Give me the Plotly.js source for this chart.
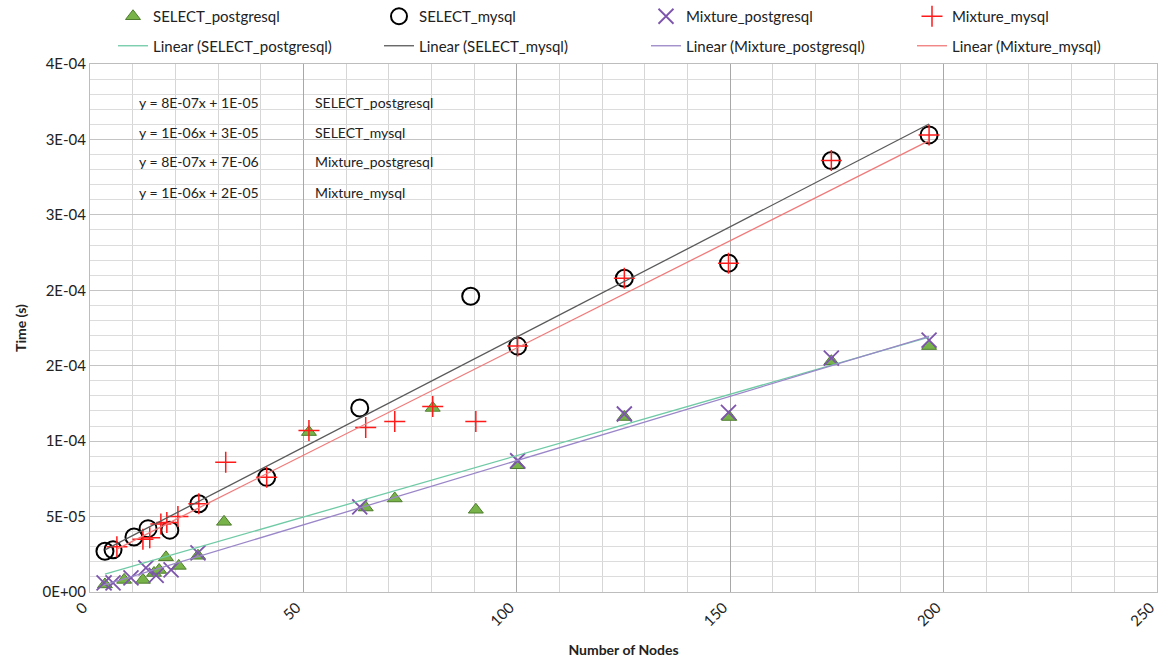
<!DOCTYPE html>
<html>
<head>
<meta charset="utf-8">
<script src="https://cdn.plot.ly/plotly-3.0.1.min.js"></script>
<style>
  html, body { margin: 0; padding: 0; background: #ffffff; }
  #chart { width: 1161px; height: 666px; }
</style>
</head>
<body>
<div id="chart"></div>
<script>
// ---- Data ----
const seriesNames = ["SELECT_postgresql", "SELECT_mysql", "Mixture_postgresql", "Mixture_mysql"];

const xSelectPg = [3.5, 8, 12.4, 15, 16.2, 17.8, 20.8, 25.3, 31.4, 51.3, 64.6, 71.4, 80.3, 90.4, 100.2, 125.2, 149.8, 173.7, 196.6];
const ySelectPg = [5e-6, 8e-6, 8e-6, 1.26e-5, 1.46e-5, 2.3e-5, 1.73e-5, 2.4e-5, 4.65e-5, 1.06e-4, 5.6e-5, 6.2e-5, 1.22e-4, 5.45e-5, 8.4e-5, 1.16e-4, 1.16e-4, 1.53e-4, 1.63e-4];

const xSelectMy = [3.5, 5.4, 10.3, 13.6, 18.7, 25.5, 41.4, 63.2, 89.2, 100.2, 125.2, 149.6, 173.7, 196.6];
const ySelectMy = [2.7e-5, 2.8e-5, 3.65e-5, 4.2e-5, 4.1e-5, 5.85e-5, 7.6e-5, 1.22e-4, 1.96e-4, 1.63e-4, 2.08e-4, 2.18e-4, 2.86e-4, 3.03e-4];

const xMixPg = [3.3, 5.4, 9.6, 13.1, 15.5, 19, 25.3, 63.2, 100.2, 125.2, 149.6, 173.7, 196.6];
const yMixPg = [6e-6, 6e-6, 9.3e-6, 1.6e-5, 1.1e-5, 1.46e-5, 2.6e-5, 5.65e-5, 8.7e-5, 1.18e-4, 1.19e-4, 1.55e-4, 1.67e-4];

const xMixMy = [6.3, 12.4, 14, 16.6, 18, 20.6, 25.5, 31.8, 41.4, 51.3, 64.6, 71.4, 80.3, 90.4, 100.2, 125.2, 149.6, 173.7, 196.6];
const yMixMy = [3e-5, 3.5e-5, 3.6e-5, 4.5e-5, 4.6e-5, 5e-5, 5.85e-5, 8.6e-5, 7.6e-5, 1.07e-4, 1.09e-4, 1.13e-4, 1.23e-4, 1.13e-4, 1.63e-4, 2.08e-4, 2.18e-4, 2.86e-4, 3.03e-4];

const eqTexts = ["y = 8E-07x + 1E-05", "y = 1E-06x + 3E-05", "y = 8E-07x + 7E-06", "y = 1E-06x + 2E-05"];

const xTickVals = [0, 50, 100, 150, 200, 250];
const yTickVals = [0, 5e-5, 1e-4, 1.5e-4, 2e-4, 2.5e-4, 3e-4, 3.5e-4];
const yTickText = ["0E+00", "5E-05", "1E-04", "2E-04", "2E-04", "3E-04", "3E-04", "4E-04"];

// ---- Linear least-squares trendline over each series' x extent ----
function trend(xs, ys) {
  const n = xs.length;
  let sx = 0, sy = 0, sxx = 0, sxy = 0;
  for (let i = 0; i < n; i++) { sx += xs[i]; sy += ys[i]; sxx += xs[i]*xs[i]; sxy += xs[i]*ys[i]; }
  const m = (n*sxy - sx*sy) / (n*sxx - sx*sx);
  const b = (sy - m*sx) / n;
  const x0 = Math.min(...xs), x1 = Math.max(...xs);
  return { x: [x0, x1], y: [m*x0 + b, m*x1 + b] };
}

const FONT = "Lato, 'Liberation Sans', sans-serif";
const colors = {
  pgMarker: "#78b34a", pgLine: "#6fcaa6",
  myMarker: "#000000", myLine: "#5a5a5a",
  mpgMarker: "#7d55ad", mpgLine: "#9a86c8",
  mmyMarker: "#ff1a1a", mmyLine: "#f07a7a"
};

const tPg = trend(xSelectPg, ySelectPg);
const tMy = trend(xSelectMy, ySelectMy);
const tMpg = trend(xMixPg, yMixPg);
const tMmy = trend(xMixMy, yMixMy);

const traces = [
  { type: "scatter", mode: "markers", name: seriesNames[0], x: xSelectPg, y: ySelectPg, legend: "legend", legendgroup: "a1",
    marker: { symbol: "triangle-up", size: 13, color: colors.pgMarker, line: { color: "#4e7d2c", width: 1 } } },
  { type: "scatter", mode: "markers", name: seriesNames[1], x: xSelectMy, y: ySelectMy, legend: "legend2", legendgroup: "b1",
    marker: { symbol: "circle-open", size: 17, color: colors.myMarker, line: { width: 2 } } },
  { type: "scatter", mode: "markers", name: seriesNames[2], x: xMixPg, y: yMixPg, legend: "legend3", legendgroup: "c1",
    marker: { symbol: "x-thin-open", size: 15, color: colors.mpgMarker, line: { color: colors.mpgMarker, width: 1.8 } } },
  { type: "scatter", mode: "markers", name: seriesNames[3], x: xMixMy, y: yMixMy, legend: "legend4", legendgroup: "d1",
    marker: { symbol: "cross-thin-open", size: 15, color: colors.mmyMarker, line: { color: colors.mmyMarker, width: 1.5 } } },
  { type: "scatter", mode: "lines", name: "Linear (" + seriesNames[0] + ")", x: tPg.x, y: tPg.y, legend: "legend", legendgroup: "a2",
    line: { color: colors.pgLine, width: 1.3 } },
  { type: "scatter", mode: "lines", name: "Linear (" + seriesNames[1] + ")", x: tMy.x, y: tMy.y, legend: "legend2", legendgroup: "b2",
    line: { color: colors.myLine, width: 1.3 } },
  { type: "scatter", mode: "lines", name: "Linear (" + seriesNames[2] + ")", x: tMpg.x, y: tMpg.y, legend: "legend3", legendgroup: "c2",
    line: { color: colors.mpgLine, width: 1.3 } },
  { type: "scatter", mode: "lines", name: "Linear (" + seriesNames[3] + ")", x: tMmy.x, y: tMmy.y, legend: "legend4", legendgroup: "d2",
    line: { color: colors.mmyLine, width: 1.3 } }
];

function legendAt(xpx) {
  return {
    x: (xpx - 90) / 1067, xanchor: "left", yref: "container", y: 1, yanchor: "top",
    orientation: "v", traceorder: "grouped", tracegroupgap: 7,
    bgcolor: "rgba(0,0,0,0)", font: { family: FONT, size: 15, color: "#222" },
    itemsizing: "trace"
  };
}

const annotations = [];
eqTexts.forEach((t, i) => {
  const yp = (592 - (102 + 30 * i)) / 528;
  annotations.push({ xref: "paper", yref: "paper", x: (137 - 90) / 1067, y: yp, xanchor: "left", yanchor: "middle",
    text: t, showarrow: false, font: { family: FONT, size: 14, color: "#222" } });
  annotations.push({ xref: "paper", yref: "paper", x: (313 - 90) / 1067, y: yp, xanchor: "left", yanchor: "middle",
    text: seriesNames[i], showarrow: false, font: { family: FONT, size: 14, color: "#222" } });
});

const layout = {
  width: 1161, height: 666,
  margin: { l: 90, r: 4, t: 64, b: 74 },
  paper_bgcolor: "#ffffff", plot_bgcolor: "#ffffff",
  font: { family: FONT, size: 14, color: "#222" },
  showlegend: true,
  legend: legendAt(113),
  legend2: legendAt(379),
  legend3: legendAt(646),
  legend4: legendAt(912),
  xaxis: {
    range: [0, 250], tickvals: xTickVals, tickangle: -45, ticklabeloverflow: "allow", ticklabelshift: -7,
    showgrid: true, gridcolor: "#a8a8a8", gridwidth: 1,
    minor: { tick0: 0, dtick: 10, showgrid: true, gridcolor: "#d6d6d6", gridwidth: 1 },
    zeroline: false, showline: true, linecolor: "#bdbdbd", mirror: true, ticks: "",
    tickfont: { family: FONT, size: 15, color: "#222" },
    title: { text: "<b>Number of Nodes</b>", font: { family: FONT, size: 14, color: "#222" }, standoff: 16 }
  },
  yaxis: {
    range: [0, 3.5e-4], tickvals: yTickVals, ticktext: yTickText,
    showgrid: true, gridcolor: "#c4c4c4", gridwidth: 1,
    minor: { tick0: 0, dtick: 1e-5, showgrid: true, gridcolor: "#dcdcdc", gridwidth: 1 },
    zeroline: false, showline: true, linecolor: "#bdbdbd", mirror: true, ticks: "",
    tickfont: { family: FONT, size: 15, color: "#222" },
    title: { text: "<b>Time (s)</b>", font: { family: FONT, size: 14, color: "#222" }, standoff: 12 }
  },
  annotations: annotations
};

Plotly.newPlot("chart", traces, layout, { displayModeBar: false, staticPlot: true });
</script>
</body>
</html>
